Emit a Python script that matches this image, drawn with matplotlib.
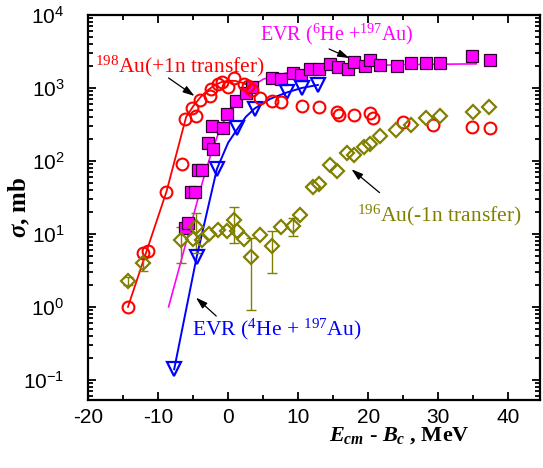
import matplotlib
matplotlib.use('Agg')
import matplotlib.pyplot as plt
import numpy as np
from matplotlib.ticker import LogLocator, MultipleLocator, NullFormatter, LogFormatterSciNotation

plt.rcParams.update({
    'font.family': ['Liberation Sans', 'DejaVu Sans'],
    'mathtext.fontset': 'custom',
    'mathtext.rm': 'Liberation Serif',
    'mathtext.it': 'Liberation Serif:italic:bold',
    'mathtext.bf': 'Liberation Serif:bold',
    'axes.unicode_minus': False,
})

# ---- data ----
# 198Au (+1n transfer)
red_x = [-14.3, -12.2, -11.4, -8.8, -6.6, -6.2, -5.2, -4.6, -4.0, -2.6, -2.5, -1.5, -0.9, -0.05,
         0.85, 2.3, 2.8, 3.4, 4.5, 6.3, 7.6, 10.5, 12.9, 15.5, 15.8, 17.9, 20.3, 20.6, 24.9,
         29.2, 34.8, 37.3]
red_y = [1.0, 5.4, 5.9, 37, 92, 372, 530, 413, 675, 776, 955, 1140, 1220, 1030,
         1350, 1150, 1060, 930, 720, 670, 635, 560, 550, 470, 430, 430, 460, 390, 345,
         310, 292, 282]
red_fit_x = [-14.3, -8.8, -6.0, -5.0, -4.0, -3.0, -2.0, -1.0, 0.0, 1.0, 2.0, 3.0]
red_fit_y = [1.0, 38, 400, 560, 740, 920, 1080, 1200, 1260, 1250, 1180, 1080]

# EVR (6He + 197Au)
mag_x = [-6.1, -5.7, -5.3, -4.7, -4.3, -3.8, -2.9, -2.1, -2.3, -0.8, -0.2, 1.1, 2.5, 3.4,
         6.2, 7.5, 9.2, 10.4, 11.7, 12.9, 14.5, 15.7, 17.1, 18.0, 19.5, 20.3, 21.7, 24.1,
         26.1, 28.3, 30.3, 34.8, 37.3]
mag_y = [12, 14, 38, 38, 76, 76, 175, 145, 300, 285, 436, 665, 850, 1030,
         1370, 1340, 1620, 1500, 1800, 1800, 2100, 1950, 1800, 2280, 2000, 2400, 2080, 1990,
         2230, 2200, 2230, 2750, 2400]
mag_fit_x = [-8.5, -3.6, -2.5, -1.5, -0.5, 0.5, 1.5, 3.0, 5.0, 8.0, 12.0, 18.0, 25.0, 35.4]
mag_fit_y = [1.0, 54, 120, 224, 370, 550, 740, 1000, 1320, 1580, 1820, 2000, 2090, 2140]

# EVR (4He + 197Au)
blue_x = [-7.7, -4.5, -1.6, 1.3, 3.8, 8.4, 10.5, 12.8]
blue_y = [0.14, 4.8, 77, 280, 520, 880, 990, 1100]
blue_fit_x = [-7.7, -4.5, -1.6, 0.0, 1.4, 2.5, 3.8, 6.0, 8.4, 10.5, 12.8]
blue_fit_y = [0.14, 4.8, 78, 178, 282, 400, 525, 710, 870, 1000, 1100]

# 196Au (-1n transfer)
olive_x = [-14.3, -12.2, -6.7, -5.0, -4.6, -3.8, -2.7, -1.5, -0.2, 0.9, 1.2, 2.3, 3.3, 4.5,
           6.3, 7.5, 9.2, 10.3, 12.1, 12.9, 14.5, 15.6, 17.0, 17.9, 19.4, 20.3, 21.6, 24.0,
           26.1, 28.2, 30.2, 34.9, 37.2]
olive_y = [2.3, 4.0, 8.2, 8.5, 12.4, 8.3, 10, 11.2, 11, 15.5, 11, 8.5, 4.8, 9.8,
           6.9, 12.4, 13, 18, 44, 48, 87, 72, 130, 120, 155, 172, 220, 262,
           310, 385, 413, 468, 550]
olive_err = [0.3, 0.9, 4.2, 0, 7.0, 0, 0, 0, 0, 8.0, 0, 0, 3.9, 0,
             4.0, 0, 3.5, 0, 0, 0, 0, 0, 0, 0, 0, 0, 0, 0,
             0, 0, 0, 0, 0]

RED = '#FF0000'
MAG = '#FF00FF'
BLUE = '#0000FF'
OLIVE = '#808000'

fig = plt.figure(figsize=(5.43, 4.68), dpi=100)
ax = fig.add_axes([88 / 543, 1 - 400 / 468, 452 / 543, 385 / 468])
ax.set_yscale('log')

# fit lines
ax.plot(red_fit_x, red_fit_y, '-', color=RED, lw=1.3, zorder=2)
ax.plot(mag_fit_x, mag_fit_y, '-', color=MAG, lw=1.2, zorder=2)
ax.plot(blue_fit_x, blue_fit_y, '-', color=BLUE, lw=1.4, zorder=2)

# error bars for olive
ox = np.array(olive_x); oy = np.array(olive_y); oe = np.array(olive_err)
m = oe > 0
ax.errorbar(ox[m], oy[m], yerr=oe[m], fmt='none', ecolor=OLIVE, elinewidth=1.0,
            capsize=3.5, capthick=1.0, zorder=2)

ax.plot(mag_x, mag_y, 's', ms=8.5, mfc=MAG, mec='#300030', mew=0.9, zorder=3)
ax.plot(blue_x, blue_y, 'v', ms=10, mfc='none', mec=BLUE, mew=1.6, zorder=4)
ax.plot(red_x, red_y, 'o', ms=8.5, mfc='none', mec=RED, mew=1.5, zorder=5)
ax.plot(olive_x, olive_y, 'D', ms=6.8, mfc='none', mec=OLIVE, mew=1.6, zorder=5)

ax.set_xlim(-20, 44.5)
ax.set_ylim(0.053, 1e4)

ax.xaxis.set_major_locator(MultipleLocator(10))
ax.xaxis.set_minor_locator(MultipleLocator(5))
ax.yaxis.set_major_locator(LogLocator(base=10, numticks=20))
ax.yaxis.set_minor_locator(LogLocator(base=10, subs=np.arange(2, 10), numticks=20))
ax.yaxis.set_minor_formatter(NullFormatter())
ax.yaxis.set_major_formatter(LogFormatterSciNotation())

ax.tick_params(which='both', direction='in', top=True, right=True, width=1.3,
               labelsize=15)
ax.tick_params(which='major', length=6)
ax.tick_params(axis='x', which='major', pad=6)
ax.tick_params(axis='y', which='major', pad=17)
ax.tick_params(which='minor', length=3.5)
for s in ax.spines.values():
    s.set_linewidth(1.6)

for lab in ax.get_xticklabels() + ax.get_yticklabels():
    lab.set_family(['Liberation Sans', 'DejaVu Sans'])

ax.set_ylabel(r'$\sigma$, mb', fontsize=18, fontweight='bold', family='Liberation Serif')
ax.yaxis.set_label_coords(-0.124, 0.5)
fig.text(399 / 543, 1 - 441 / 468, r'$E_{cm}$ - $B_{c}$ , MeV', ha='center', va='baseline',
         fontsize=16, fontweight='bold', family='Liberation Serif')

serif = 'Liberation Serif'
arrow = dict(arrowstyle='-|>,head_length=0.7,head_width=0.22', color='black', lw=0.9,
             shrinkA=0, shrinkB=0)

ax.text(0.0155, 0.852, r'$^{198}$Au(+1n transfer)', transform=ax.transAxes, color=RED,
        fontsize=15.5, family=serif, ha='left', va='baseline')
ax.annotate('', xy=(-4.8, 776), xytext=(-8.5, 1370), arrowprops=arrow)

ax.text(0.38, 0.935, r'EVR ($^{6}$He +$^{197}$Au)', transform=ax.transAxes, color=MAG,
        fontsize=14.5, family=serif, ha='left', va='baseline')
ax.annotate('', xy=(17.3, 2570), xytext=(14.4, 3420), arrowprops=arrow)

ax.text(0.595, 0.465, r'$^{196}$Au(-1n transfer)', transform=ax.transAxes, color=OLIVE,
        fontsize=15.5, family=serif, ha='left', va='baseline')
ax.annotate('', xy=(17.6, 77), xytext=(21.6, 36.8), arrowprops=arrow)

ax.text(0.229, 0.169, r'EVR ($^{4}$He + $^{197}$Au)', transform=ax.transAxes, color=BLUE,
        fontsize=15.5, family=serif, ha='left', va='baseline')
ax.annotate('', xy=(-4.6, 1.34), xytext=(-1.7, 0.75), arrowprops=arrow)

fig.savefig('out.png', dpi=100)
